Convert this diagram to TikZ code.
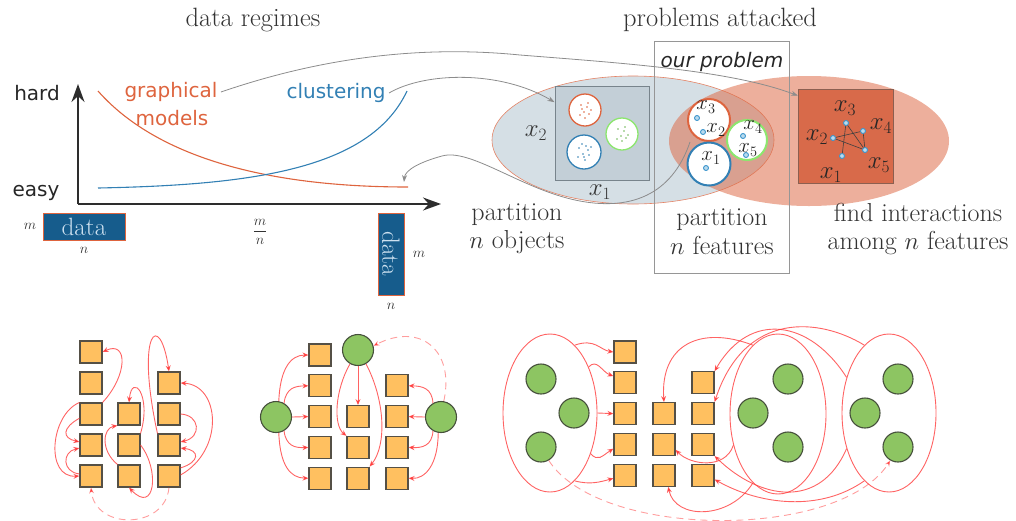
\documentclass[tikz,border=0pt]{standalone}
\usepackage{fontspec}
\newfontfamily\dejavu{DejaVu Sans}
\usetikzlibrary{arrows.meta,shapes.geometric}

\definecolor{gmorange}{RGB}{222,100,62}
\definecolor{clblue}{RGB}{50,128,180}
\definecolor{axisgray}{RGB}{45,45,45}
\definecolor{databox}{RGB}{22,92,140}
\definecolor{datatext}{RGB}{205,225,240}
\definecolor{objfill}{RGB}{213,223,229}
\definecolor{sqfill}{RGB}{195,207,215}
\definecolor{sqedge}{RGB}{120,132,140}
\definecolor{featfill}{RGB}{222,110,75}
\definecolor{intsqfill}{RGB}{216,106,74}
\definecolor{intedge}{RGB}{140,95,80}
\definecolor{ptgreen}{RGB}{140,230,110}
\definecolor{dotblue}{RGB}{60,150,205}
\definecolor{linkred}{RGB}{255,60,60}
\definecolor{varfill}{RGB}{255,192,96}
\definecolor{varedge}{RGB}{85,80,70}
\definecolor{hidfill}{RGB}{141,197,98}
\definecolor{hidedge}{RGB}{70,80,60}
\definecolor{conngray}{RGB}{140,140,140}
\definecolor{boxgray}{RGB}{150,150,150}

\begin{document}
\begin{tikzpicture}[x=1pt,y=-1pt,
  serif/.style={font=\fontsize{26.5}{29}\selectfont, text=black!80},
  sanslab/.style={font=\dejavu\fontsize{20}{24}\selectfont},
  smallmath/.style={font=\fontsize{15}{17}\selectfont, text=black!80, inner sep=0pt},
  varmath/.style={font=\fontsize{23}{25}\selectfont, text=black!85, inner sep=0pt},
  circmath/.style={font=\fontsize{19.5}{21}\selectfont, text=black!85, inner sep=0pt},
  dbox/.style={fill=databox, draw=gmorange, line width=0.8pt, text=datatext,
               font=\fontsize{25}{28}\selectfont, inner sep=0pt},
  blob/.style={circle, fill=white, inner sep=0pt},
  fdot/.style={circle, draw=dotblue, fill=dotblue!35, line width=0.9pt, inner sep=0pt, minimum size=5pt},
  conn/.style={draw=conngray, line width=0.8pt, -{Stealth[length=7pt,width=5pt]}},
  axisline/.style={draw=axisgray, line width=1.6pt, -{Stealth[length=18pt,width=13pt]}},
  var/.style={rectangle, draw=varedge, fill=varfill, line width=1.1pt, minimum size=22pt, inner sep=0pt},
  hid/.style={circle, draw=hidedge, fill=hidfill, line width=1.1pt, minimum size=31pt, inner sep=0pt},
  grp/.style={ellipse, draw=linkred, draw opacity=0.8, line width=0.9pt, inner sep=0pt},
  link/.style={draw=linkred, draw opacity=0.8, line width=0.9pt, -{Stealth[length=6pt,width=5pt]}},
  linkdash/.style={link, draw opacity=0.5, dash pattern=on 7pt off 5pt},
]
\useasboundingbox (0,0) rectangle (1016,520);

% ---------- titles ----------
\node[serif] (title1) at (253,20) {data regimes};
\node[serif] (title2) at (720,20) {problems attacked};

% ---------- difficulty plot ----------
\coordinate (orig) at (78,204);
\coordinate (ytop) at (78,84);
\coordinate (xend) at (441,204);
\draw[axisline] (orig) -- (ytop);
\draw[axisline] (orig) -- (xend);
\node[sanslab, text=black!85] (hard) at (37,93) {hard};
\node[sanslab, text=black!85] (easy) at (36,193) {easy};

\coordinate (gmstart) at (98,91);
\coordinate (gmend) at (408,187);
\coordinate (clstart) at (98,188);
\coordinate (clend) at (407,91);
\draw[gmorange, line width=1.1pt] (gmstart) .. controls (150,150) and (250,187) .. (gmend);
\draw[clblue, line width=1.1pt] (clstart) .. controls (250,185) and (370,170) .. (clend);
\node[sanslab, text=gmorange] (gm1) at (171,92) {graphical};
\node[sanslab, text=gmorange] (gm2) at (172,118) {models};
\node[sanslab, text=clblue] (cl) at (336,93) {clustering};

% data shapes under the axis
\node[dbox, minimum width=82pt, minimum height=27pt] (dleft) at (84,226.5) {data};
\node[smallmath] (mleft) at (30,226) {$m$};
\node[smallmath] (nleft) at (84,250) {$n$};
\node[smallmath, font=\fontsize{14}{16}\selectfont] (ratio) at (260,232) {${\displaystyle\frac{m}{n}}$};
\node[dbox, minimum width=82pt, minimum height=26pt, rotate=-90] (dright) at (391,254) {data};
\node[smallmath] (mright) at (419,254) {$m$};
\node[smallmath] (nright) at (391,306) {$n$};

% ---------- problem sets ----------
\node[ellipse, fill=objfill, draw=gmorange!80, line width=0.6pt, minimum width=282pt,
      minimum height=128pt, inner sep=0pt] (objects) at (633,140) {};
\node[rectangle, fill=sqfill, draw=sqedge, line width=1pt, minimum size=94pt, inner sep=0pt]
      (objsq) at (602,133) {};
\node[blob, draw=gmorange, line width=1.3pt, minimum size=32pt] (oc1) at (585,110) {};
\node[blob, draw=ptgreen, line width=1.3pt, minimum size=32pt] (oc2) at (622,134) {};
\node[blob, draw=clblue, line width=1.3pt, minimum size=34pt] (oc3) at (584,152) {};
\begin{scope}[shift={(585,110)}]
  \foreach \dx/\dy in {-4/-5,2/-3,-1/2,4/4,-5/5,0/8,3/-7,6/0,-3/-1}
    \fill[gmorange] (\dx,\dy) circle (0.9);
\end{scope}
\begin{scope}[shift={(622,134)}]
  \foreach \dx/\dy in {-4/-5,2/-3,-1/2,4/4,-5/5,0/7,3/-7,6/1}
    \fill[ptgreen!80!black] (\dx,\dy) circle (0.9);
\end{scope}
\begin{scope}[shift={(584,152)}]
  \foreach \dx/\dy in {-5/-4,2/-6,-1/2,5/3,-6/5,1/8,4/-2,7/-5,-2/-8,0/5}
    \fill[clblue] (\dx,\dy) circle (0.9);
\end{scope}
\node[serif] (ax2) at (536,133) {$x_2$};
\node[serif] (ax1) at (600,192) {$x_1$};

\node[ellipse, fill=featfill, fill opacity=0.55, minimum width=280pt, minimum height=130pt,
      inner sep=0pt] (interact) at (809,141) {};

% partition of features
\node[blob, draw=gmorange, line width=2pt, minimum size=42pt] (fc1) at (709,120) {};
\node[blob, draw=clblue, line width=2pt, minimum size=43pt] (fc2) at (709,164) {};
\node[blob, draw=ptgreen, line width=2pt, minimum size=40pt] (fc3) at (747,140) {};
\node[fdot] (fd3) at (697,118) {};
\node[fdot] (fd2) at (703,132) {};
\node[fdot] (fd1) at (706,168) {};
\node[fdot] (fd4) at (743,136) {};
\node[fdot] (fd5) at (746,155) {};
\node[circmath] (fx3) at (706,107) {$x_3$};
\node[circmath] (fx2) at (716,130) {$x_2$};
\node[circmath] (fx1) at (711,158) {$x_1$};
\node[circmath] (fx4) at (753,127) {$x_4$};
\node[circmath] (fx5) at (748,150) {$x_5$};

% interaction graph
\node[rectangle, fill=intsqfill, draw=intedge, line width=1pt, minimum width=95pt,
      minimum height=94pt, inner sep=0pt] (intsq) at (846,136) {};
\node[fdot] (g3) at (846,123) {};
\node[fdot] (g4) at (863,131) {};
\node[fdot] (g2) at (833,138) {};
\node[fdot] (g5) at (865,150) {};
\node[fdot] (g1) at (842,156) {};
\begin{scope}[draw=black!75, line width=0.6pt]
  \draw (g3) -- (g5);
  \draw (g3) -- (g1);
  \draw (g2) -- (g4);
  \draw (g2) -- (g5);
  \draw (g4) -- (g5);
\end{scope}
\node[varmath] (gx3) at (845,108) {$x_3$};
\node[varmath] (gx4) at (881,126) {$x_4$};
\node[varmath] (gx2) at (817,137) {$x_2$};
\node[varmath] (gx5) at (879,165) {$x_5$};
\node[varmath] (gx1) at (831,175) {$x_1$};

% our problem frame
\node[rectangle, draw=boxgray, line width=0.8pt, minimum width=135pt, minimum height=232pt,
      inner sep=0pt] (ourbox) at (721.5,157) {};
\node[sanslab, font=\dejavu\itshape\fontsize{20}{24}\selectfont, text=black!85] (ourlab) at (722,62) {our problem};

% problem captions
\node[serif, align=center, font=\fontsize{26}{28}\selectfont] (cap1) at (517,229) {partition\\$n$ objects};
\node[serif, align=center, font=\fontsize{26}{29}\selectfont] (cap2) at (722,232) {partition\\$n$ features};
\node[serif, align=center, font=\fontsize{26}{28}\selectfont] (cap3) at (918,229) {find interactions\\among $n$ features};

% regime-to-problem connectors
\coordinate (fstart) at (690,142);
\coordinate (gmtip) at (404,182);
\draw[conn] (gm1.east) .. controls (320,58) and (420,45) .. (520,55)
            .. controls (620,63) and (730,70) .. (intsq.140);
\draw[conn] (cl.east) .. controls (425,72) and (500,70) .. (objsq.147);
\draw[conn] (fstart) .. controls (672,195) and (630,212) .. (575,200)
            .. controls (520,188) and (470,148) .. (442,156)
            .. controls (420,162) and (405,170) .. (gmtip);

% ---------- graph 1: variables only ----------
\foreach \c/\x/\rows in {1/91/{1,2,3,4,5},2/129/{3,4,5},3/169/{2,3,4,5}}{
  \foreach \r in \rows {
    \pgfmathsetmacro{\yy}{352+(\r-1)*31}
    \node[var] (a-\c-\r) at (\x,\yy) {};
  }
}
\draw[link] (a-1-3.north east) .. controls (128,375) and (128,340) .. (a-1-1.east);
\draw[link] (a-1-3.north west) .. controls (50,415) and (45,478) .. (a-1-5.west);
\draw[link] (a-1-3.200) .. controls (62,428) and (62,438) .. (a-1-4.165);
\draw[link] (a-1-5.170) .. controls (62,472) and (62,452) .. (a-1-4.195);
\draw[link] (a-3-4.north west) .. controls (135,330) and (160,310) .. (a-3-2.north);
\draw[link] (a-2-4.north east) .. controls (152,395) and (132,372) .. (a-2-3.north);
\draw[link] (a-2-5.north west) .. controls (100,450) and (103,428) .. (a-2-3.south west);
\draw[link] (a-2-4.east) .. controls (160,470) and (155,515) .. (a-2-5.south);
\draw[link] (a-3-5.5) .. controls (225,450) and (220,385) .. (a-3-2.east);
\draw[link] (a-3-3.east) .. controls (200,415) and (202,437) .. (a-3-4.15);
\draw[link] (a-3-5.35) .. controls (200,462) and (200,450) .. (a-3-4.-15);
\draw[linkdash] (a-3-5.south) .. controls (165,530) and (95,530) .. (a-1-5.south);

% ---------- graph 2: single hidden nodes ----------
\foreach \c/\x/\rows in {1/320/{1,2,3,4,5},2/358/{3,4,5},3/397/{2,3,4,5}}{
  \foreach \r in \rows {
    \pgfmathsetmacro{\yy}{355+(\r-1)*30.8}
    \node[var] (b-\c-\r) at (\x,\yy) {};
  }
}
\node[hid] (bT) at (358,350) {};
\node[hid] (bL) at (276,417) {};
\node[hid] (bR) at (441,417) {};
\draw[link] (bL.80) .. controls (280,370) and (290,355) .. (b-1-1.west);
\draw[link] (bL.60) .. controls (286,388) and (295,386) .. (b-1-2.west);
\draw[link] (bL.east) -- (b-1-3.west);
\draw[link] (bL.-60) .. controls (286,446) and (295,448) .. (b-1-4.west);
\draw[link] (bL.-80) .. controls (280,465) and (290,478) .. (b-1-5.west);
\draw[link] (bR.120) .. controls (432,388) and (422,386) .. (b-3-2.east);
\draw[link] (bR.west) -- (b-3-3.east);
\draw[link] (bR.-120) .. controls (432,446) and (422,448) .. (b-3-4.east);
\draw[link] (bR.-100) .. controls (438,465) and (425,479) .. (b-3-5.east);
\draw[link] (bT.south) -- (b-2-3.north);
\draw[link] (bT.-120) .. controls (335,390) and (333,425) .. (b-2-4.north west);
\draw[link] (bT.-60) .. controls (385,400) and (387,445) .. (b-2-5.north east);
\draw[linkdash] (bR.80) .. controls (455,350) and (420,322) .. (bT.15);

% ---------- graph 3: groups of hidden nodes ----------
\foreach \c/\x/\rows in {1/625/{1,2,3,4,5},2/664/{3,4,5},3/703/{2,3,4,5}}{
  \foreach \r in \rows {
    \pgfmathsetmacro{\yy}{352+(\r-1)*30.8}
    \node[var] (c-\c-\r) at (\x,\yy) {};
  }
}
\node[grp, minimum width=94pt, minimum height=158pt] (eL) at (550,413) {};
\node[grp, minimum width=96pt, minimum height=160pt] (eM) at (778,414) {};
\node[grp, minimum width=94pt, minimum height=158pt] (eR) at (889,413) {};
\node[hid, minimum size=30pt] (cL1) at (541,379) {};
\node[hid, minimum size=30pt] (cL2) at (574,413) {};
\node[hid, minimum size=30pt] (cL3) at (541,447) {};
\node[hid, minimum size=30pt] (cM1) at (788,379) {};
\node[hid, minimum size=30pt] (cM2) at (753,413) {};
\node[hid, minimum size=30pt] (cM3) at (788,447) {};
\node[hid, minimum size=30pt] (cR1) at (898,379) {};
\node[hid, minimum size=30pt] (cR2) at (865,413) {};
\node[hid, minimum size=30pt] (cR3) at (898,447) {};

\draw[link] (eL.70) .. controls (595,338) and (600,350) .. (c-1-1.west);
\draw[link] (eL.50) .. controls (597,358) and (602,372) .. (c-1-2.150);
\draw[link] (eL.east) -- (c-1-3.west);
\draw[link] (eL.-45) .. controls (598,462) and (602,456) .. (c-1-4.200);
\draw[link] (eL.-70) .. controls (590,485) and (600,482) .. (c-1-5.195);
\draw[link] (eM.110) .. controls (700,325) and (660,345) .. (c-2-3.north);
\draw[link] (eM.215) .. controls (725,470) and (690,465) .. (c-2-4.-25);
\draw[link] (eM.250) .. controls (730,520) and (675,520) .. (c-2-5.-70);
\draw[link] (eR.140) .. controls (810,320) and (750,310) .. (c-3-2.north east);
\draw[link] (eR.110) .. controls (820,318) and (745,310) .. (c-3-3.north east);
\draw[link] (eR.-140) .. controls (820,510) and (760,500) .. (c-3-4.south east);
\draw[link] (eR.-110) .. controls (820,512) and (760,505) .. (c-3-5.-20);
\draw[linkdash] (cL3.-60) .. controls (600,540) and (840,540) .. (cR3.-120);

\end{tikzpicture}
\end{document}
